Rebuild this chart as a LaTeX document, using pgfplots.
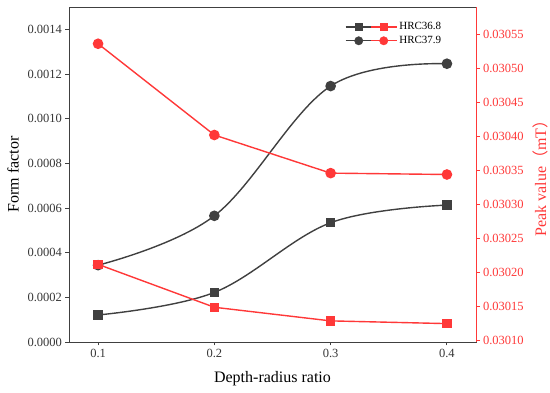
\documentclass[border=0pt]{standalone}
\usepackage{pgfplots}
\pgfplotsset{compat=1.18}
\usepackage{fontspec}
\setmainfont{Liberation Serif}
\newfontfamily\cjk{Noto Sans CJK SC}
\definecolor{dk}{HTML}{404040}
\definecolor{rd}{HTML}{FF3838}

\pgfplotstableread{
x ff368 ff379 pv368 pv379
0.1 0.000121 0.000344 0.030212 0.030536
0.2 0.000222 0.000565 0.030149 0.030402
0.3 0.000534 0.001146 0.030129 0.030346
0.4 0.000613 0.001246 0.030125 0.030344
}\datatable

\begin{document}
\begin{tikzpicture}
\useasboundingbox (-69pt,-51pt) rectangle (481pt,342pt);
\begin{axis}[
  scale only axis, width=407pt, height=335pt,
  at={(0,0)}, anchor=south west,
  xmin=0.075, xmax=0.425, ymin=0, ymax=0.0015,
  scaled ticks=false,
  xtick={0.1,0.2,0.3,0.4}, xticklabels={0.1,0.2,0.3,0.4},
  ytick={0,0.0002,0.0004,0.0006,0.0008,0.0010,0.0012,0.0014},
  yticklabels={0.0000,0.0002,0.0004,0.0006,0.0008,0.0010,0.0012,0.0014},
  tick align=outside, xtick pos=bottom, ytick pos=left,
  major tick length=3.5pt,
  axis line style={dk, line width=0.9pt},
  tick style={dk, line width=0.9pt},
  ticklabel style={font=\fontsize{12.5}{14}\selectfont, text=dk!85!black},
  xlabel={Depth-radius ratio}, ylabel={Form factor},
  label style={font=\fontsize{16}{18}\selectfont, text=black},
  xlabel style={at={(axis description cs:0.5,0)}, anchor=center, yshift=-37pt},
  ylabel style={at={(axis description cs:0,0.5)}, anchor=center, yshift=56pt},
  clip=false,
]
\addplot[dk, line width=1.4pt, smooth, tension=0.6, mark=square*, mark size=4pt, mark options={solid}] table[x=x, y=ff368] {\datatable};
\addplot[dk, line width=1.4pt, smooth, tension=0.6, mark=*, mark size=4.6pt, mark options={solid}] table[x=x, y=ff379] {\datatable};
\end{axis}
\begin{axis}[
  scale only axis, width=407pt, height=335pt,
  at={(0,0)}, anchor=south west,
  xmin=0.075, xmax=0.425, ymin=0.030098, ymax=0.03059,
  scaled ticks=false,
  axis x line=none, axis y line*=right,
  ytick={0.0301,0.03015,0.0302,0.03025,0.0303,0.03035,0.0304,0.03045,0.0305,0.03055},
  yticklabels={0.03010,0.03015,0.03020,0.03025,0.03030,0.03035,0.03040,0.03045,0.03050,0.03055},
  tick align=outside, major tick length=3.5pt,
  y axis line style={-, rd, line width=0.9pt},
  ytick style={rd, line width=0.9pt},
  yticklabel style={font=\fontsize{12.5}{14}\selectfont, text=rd},
  ylabel={Peak value{\cjk （}mT{\cjk ）}},
  ylabel style={font=\fontsize{16}{18}\selectfont, text=rd, at={(axis description cs:1,0.5)}, anchor=center, yshift=-64pt},
  clip=false,
  legend style={draw=none, fill=none, at={(rel axis cs:0.678,0.96)}, anchor=north west,
    font=\fontsize{11}{12}\selectfont, inner sep=0pt, row sep=1pt, text=black},
  legend cell align=left,
]
\addplot[rd, line width=1.4pt, mark=square*, mark size=4pt, mark options={solid}, forget plot] table[x=x, y=pv368] {\datatable};
\addplot[rd, line width=1.4pt, mark=*, mark size=4.6pt, mark options={solid}, forget plot] table[x=x, y=pv379] {\datatable};
\addlegendimage{legend image code/.code={
  \draw[dk, line width=1.2pt] (0pt,0pt) -- (25pt,0pt);
  \fill[dk] (13pt,0pt) +(-3.6pt,-3.6pt) rectangle +(3.6pt,3.6pt);
  \draw[rd, line width=1.2pt] (25pt,0pt) -- (51pt,0pt);
  \fill[rd] (38pt,0pt) +(-3.6pt,-3.6pt) rectangle +(3.6pt,3.6pt);
}}
\addlegendentry{HRC36.8}
\addlegendimage{legend image code/.code={
  \draw[dk, line width=1.2pt] (0pt,0pt) -- (25pt,0pt);
  \fill[dk] (13pt,0pt) circle (4.2pt);
  \draw[rd, line width=1.2pt] (25pt,0pt) -- (51pt,0pt);
  \fill[rd] (38pt,0pt) circle (4.2pt);
}}
\addlegendentry{HRC37.9}
\end{axis}
\end{tikzpicture}
\end{document}
